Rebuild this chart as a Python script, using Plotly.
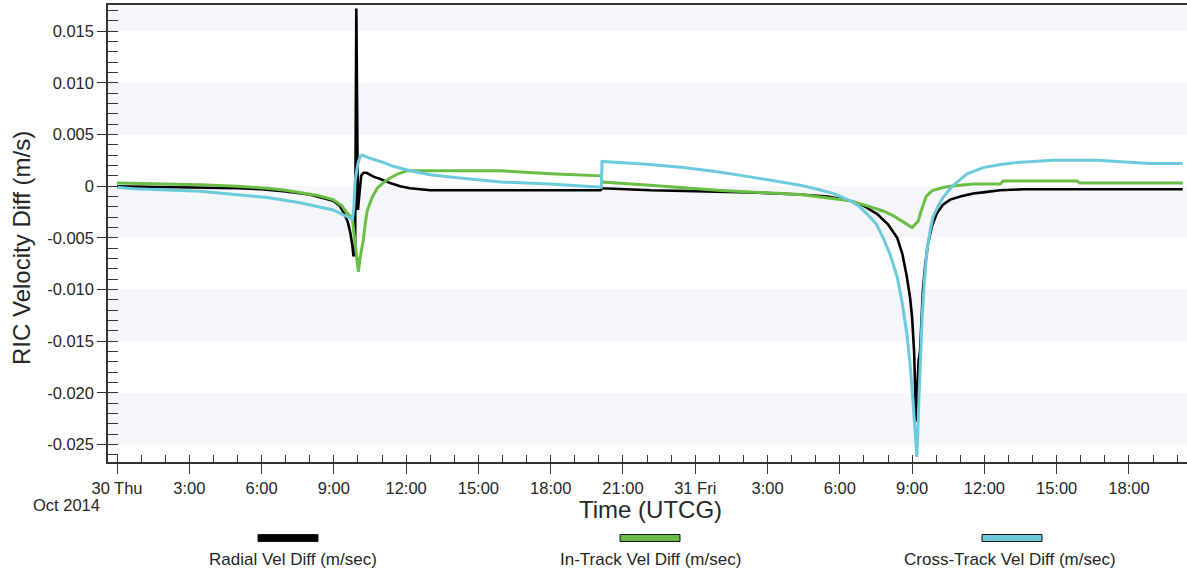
import plotly.graph_objects as go

# ---------------- data ----------------
radial_t = ["2014-10-30 00:00", "2014-10-30 03:00", "2014-10-30 05:00", "2014-10-30 06:00",
            "2014-10-30 07:00", "2014-10-30 07:59", "2014-10-30 08:30", "2014-10-30 08:58",
            "2014-10-30 09:15", "2014-10-30 09:25", "2014-10-30 09:35", "2014-10-30 09:41",
            "2014-10-30 09:46", "2014-10-30 09:49", "2014-10-30 09:53", "2014-10-30 09:56",
            "2014-10-30 10:00", "2014-10-30 10:03", "2014-10-30 10:08", "2014-10-30 10:14",
            "2014-10-30 10:21", "2014-10-30 10:40", "2014-10-30 10:56", "2014-10-30 11:20",
            "2014-10-30 11:45", "2014-10-30 12:10", "2014-10-30 13:00", "2014-10-30 17:59",
            "2014-10-30 20:04", "2014-10-30 20:08", "2014-10-30 22:08", "2014-10-31 02:17",
            "2014-10-31 04:21", "2014-10-31 05:30", "2014-10-31 06:26", "2014-10-31 07:00",
            "2014-10-31 07:33", "2014-10-31 08:00", "2014-10-31 08:23", "2014-10-31 08:36",
            "2014-10-31 08:47", "2014-10-31 08:55", "2014-10-31 09:00", "2014-10-31 09:05",
            "2014-10-31 09:07", "2014-10-31 09:10", "2014-10-31 09:13", "2014-10-31 09:16",
            "2014-10-31 09:20", "2014-10-31 09:23", "2014-10-31 09:27", "2014-10-31 09:33",
            "2014-10-31 09:40", "2014-10-31 09:50", "2014-10-31 10:02", "2014-10-31 10:17",
            "2014-10-31 10:35", "2014-10-31 11:00", "2014-10-31 11:32", "2014-10-31 11:57",
            "2014-10-31 12:39", "2014-10-31 13:37", "2014-10-31 20:14"]
radial_v = [0.0000, -0.0001, -0.0002, -0.0003,
            -0.0005, -0.0008, -0.0011, -0.0014,
            -0.0019, -0.0026, -0.0035, -0.0045,
            -0.0057, -0.0068, -0.0060, 0.0172,
            -0.0023, -0.0008, 0.0010, 0.0013,
            0.0013, 0.0009, 0.0007, 0.0003,
            0.0000, -0.0002, -0.0004, -0.0004,
            -0.0004, -0.0002, -0.0004, -0.0006,
            -0.0008, -0.0010, -0.0014, -0.0019,
            -0.0027, -0.0037, -0.0050, -0.0066,
            -0.0088, -0.0108, -0.0127, -0.0160,
            -0.0185, -0.0228, -0.0195, -0.0170,
            -0.0159, -0.0128, -0.0100, -0.0075,
            -0.0055, -0.0038, -0.0026, -0.0018,
            -0.0013, -0.0010, -0.0007, -0.0006,
            -0.0004, -0.0003, -0.0003]

intrack_t = ["2014-10-30 00:00", "2014-10-30 03:27", "2014-10-30 05:00", "2014-10-30 06:14",
             "2014-10-30 07:00", "2014-10-30 07:36", "2014-10-30 08:20", "2014-10-30 08:58",
             "2014-10-30 09:20", "2014-10-30 09:33", "2014-10-30 09:46", "2014-10-30 09:53",
             "2014-10-30 09:58", "2014-10-30 10:01", "2014-10-30 10:06", "2014-10-30 10:13",
             "2014-10-30 10:18", "2014-10-30 10:23", "2014-10-30 10:35", "2014-10-30 10:48",
             "2014-10-30 11:05", "2014-10-30 11:20", "2014-10-30 11:40", "2014-10-30 12:03",
             "2014-10-30 15:55", "2014-10-30 17:59", "2014-10-30 20:06", "2014-10-30 20:08",
             "2014-10-30 22:08", "2014-10-31 00:55", "2014-10-31 04:21", "2014-10-31 06:26",
             "2014-10-31 07:08", "2014-10-31 07:48", "2014-10-31 08:15", "2014-10-31 08:38",
             "2014-10-31 08:50", "2014-10-31 09:00", "2014-10-31 09:05", "2014-10-31 09:10",
             "2014-10-31 09:15", "2014-10-31 09:21", "2014-10-31 09:27", "2014-10-31 09:35",
             "2014-10-31 09:45", "2014-10-31 09:52", "2014-10-31 10:20", "2014-10-31 10:35",
             "2014-10-31 11:32", "2014-10-31 12:39", "2014-10-31 12:47", "2014-10-31 15:51",
             "2014-10-31 15:58", "2014-10-31 20:14"]
intrack_v = [0.0003, 0.00015, 0.0000, -0.0002,
             -0.0004, -0.0006, -0.0009, -0.0013,
             -0.0019, -0.0026, -0.0031, -0.0055,
             -0.0075, -0.0083, -0.0068, -0.0053,
             -0.0037, -0.0024, -0.0011, -0.0002,
             0.0004, 0.0008, 0.0012, 0.0015,
             0.0015, 0.0012, 0.0010, 0.0004,
             0.0001, -0.0004, -0.0008, -0.0014,
             -0.0019, -0.0024, -0.0029, -0.0035,
             -0.0038, -0.0040, -0.0038, -0.0036,
             -0.0034, -0.0026, -0.0019, -0.0010,
             -0.0006, -0.0004, -0.0001, 0.0000,
             0.0002, 0.0002, 0.0005, 0.0005,
             0.0003, 0.0003]

cross_t = ["2014-10-30 00:00", "2014-10-30 00:41", "2014-10-30 03:27", "2014-10-30 06:14",
           "2014-10-30 07:36", "2014-10-30 08:58", "2014-10-30 09:41", "2014-10-30 09:46",
           "2014-10-30 09:50", "2014-10-30 09:53", "2014-10-30 10:00", "2014-10-30 10:06",
           "2014-10-30 10:11", "2014-10-30 10:30", "2014-10-30 11:03", "2014-10-30 11:30",
           "2014-10-30 12:10", "2014-10-30 13:00", "2014-10-30 13:50", "2014-10-30 15:00",
           "2014-10-30 15:55", "2014-10-30 17:59", "2014-10-30 20:06", "2014-10-30 20:08",
           "2014-10-30 20:46", "2014-10-30 22:08", "2014-10-30 23:30", "2014-10-31 00:55",
           "2014-10-31 02:17", "2014-10-31 03:39", "2014-10-31 04:21", "2014-10-31 05:04",
           "2014-10-31 05:43", "2014-10-31 06:26", "2014-10-31 06:50", "2014-10-31 07:08",
           "2014-10-31 07:30", "2014-10-31 07:48", "2014-10-31 08:05", "2014-10-31 08:23",
           "2014-10-31 08:35", "2014-10-31 08:47", "2014-10-31 08:55", "2014-10-31 09:02",
           "2014-10-31 09:08", "2014-10-31 09:12", "2014-10-31 09:17", "2014-10-31 09:21",
           "2014-10-31 09:25", "2014-10-31 09:31", "2014-10-31 09:37", "2014-10-31 09:45",
           "2014-10-31 09:52", "2014-10-31 10:05", "2014-10-31 10:17", "2014-10-31 10:40",
           "2014-10-31 11:00", "2014-10-31 11:17", "2014-10-31 11:57", "2014-10-31 12:40",
           "2014-10-31 13:21", "2014-10-31 14:51", "2014-10-31 16:41", "2014-10-31 18:52",
           "2014-10-31 20:14"]
cross_v = [-0.0001, -0.00025, -0.0005, -0.0011,
           -0.0016, -0.0023, -0.0031, -0.0033,
           -0.0020, 0.0005, 0.0022, 0.0029,
           0.0030, 0.0027, 0.0023, 0.0019,
           0.0015, 0.0011, 0.0009, 0.0006,
           0.0004, 0.0002, -0.0001, 0.0024,
           0.0023, 0.0021, 0.0018, 0.0014,
           0.0009, 0.0004, 0.0001, -0.0003,
           -0.0007, -0.0014, -0.0020, -0.0027,
           -0.0036, -0.0050, -0.0066, -0.0088,
           -0.0112, -0.0143, -0.0172, -0.0207,
           -0.0240, -0.0262, -0.0207, -0.0165,
           -0.0127, -0.0090, -0.0062, -0.0043,
           -0.0030, -0.0019, -0.0011, 0.0000,
           0.0007, 0.0012, 0.0018, 0.0021,
           0.0023, 0.0025, 0.0025, 0.0022,
           0.0022]

series_names = ["Radial Vel Diff (m/sec)", "In-Track Vel Diff (m/sec)", "Cross-Track Vel Diff (m/sec)"]
series_colors = ["#000000", "#6abd45", "#6ccadd"]

x_tickvals = ["2014-10-30 00:00", "2014-10-30 03:00", "2014-10-30 06:00", "2014-10-30 09:00",
              "2014-10-30 12:00", "2014-10-30 15:00", "2014-10-30 18:00", "2014-10-30 21:00",
              "2014-10-31 00:00", "2014-10-31 03:00", "2014-10-31 06:00", "2014-10-31 09:00",
              "2014-10-31 12:00", "2014-10-31 15:00", "2014-10-31 18:00"]
x_ticktext = ["30 Thu", "3:00", "6:00", "9:00", "12:00", "15:00", "18:00", "21:00",
              "31 Fri", "3:00", "6:00", "9:00", "12:00", "15:00", "18:00"]
y_tickvals = [0.015, 0.010, 0.005, 0.0, -0.005, -0.010, -0.015, -0.020, -0.025]
y_ticktext = ["0.015", "0.010", "0.005", "0", "-0.005", "-0.010", "-0.015", "-0.020", "-0.025"]

x_range = ["2014-10-29 23:37:36", "2014-10-31 20:24:36"]
y_range = [-0.0267, 0.01754]

# ---------------- layout helpers ----------------
W, H = 1187, 573
ML, MR, MT, MB = 108, 0, 5, 111
PW, PH = W - ML - MR, H - MT - MB


def fx(px):
    return (px - ML) / PW


def fy(py):
    return (H - MB - py) / PH


FONT = "Liberation Sans, Arial, sans-serif"
TXT = "#262626"
AX = "#333333"

fig = go.Figure()
for t, v, name, col in zip([radial_t, intrack_t, cross_t], [radial_v, intrack_v, cross_v],
                           series_names, series_colors):
    fig.add_trace(go.Scatter(x=t, y=v, mode="lines", name=name,
                             line=dict(color=col, width=3 if col != "#000000" else 2.6),
                             showlegend=False, hoverinfo="x+y+name"))
# helper (empty) trace carrying the inner major ticks axes
fig.add_trace(go.Scatter(x=[], y=[], xaxis="x2", yaxis="y2", showlegend=False, hoverinfo="skip"))

shapes = []
bands = [(0.015, y_range[1]), (0.005, 0.010), (-0.005, 0.0), (-0.015, -0.010), (-0.025, -0.020)]
for y0, y1 in bands:
    shapes.append(dict(type="rect", xref="paper", x0=0, x1=1, yref="y", y0=y0, y1=y1,
                       fillcolor="#f4f6f9", line=dict(width=0), layer="below"))

# legend samples
legend_boxes = [(258, 318), (620, 680), (982, 1042)]
for (x0, x1), col in zip(legend_boxes, series_colors):
    shapes.append(dict(type="rect", xref="paper", yref="paper",
                       x0=fx(x0), x1=fx(x1), y0=fy(541.5), y1=fy(534.5),
                       fillcolor=col, line=dict(color="#111111", width=1)))

annotations = []
legend_cx = [293, 650, 1010]
for cx, name in zip(legend_cx, series_names):
    annotations.append(dict(text=name, x=fx(cx), y=fy(559), xref="paper", yref="paper",
                            xanchor="center", yanchor="middle", showarrow=False,
                            font=dict(family=FONT, size=17, color=TXT)))
annotations.append(dict(text="Oct 2014", x=fx(66), y=fy(505), xref="paper", yref="paper",
                        xanchor="center", yanchor="middle", showarrow=False,
                        font=dict(family=FONT, size=16.5, color=TXT)))
annotations.append(dict(text="Time (UTCG)", x=fx(650), y=fy(509), xref="paper", yref="paper",
                        xanchor="center", yanchor="middle", showarrow=False,
                        font=dict(family=FONT, size=24, color=TXT)))
annotations.append(dict(text="RIC Velocity Diff (m/s)", x=fx(22), y=fy(248), xref="paper",
                        yref="paper", xanchor="center", yanchor="middle", showarrow=False,
                        textangle=-90, font=dict(family=FONT, size=24, color=TXT)))

fig.update_layout(
    width=W, height=H, autosize=False,
    margin=dict(l=ML, r=MR, t=MT, b=MB, pad=0),
    paper_bgcolor="white", plot_bgcolor="white",
    shapes=shapes, annotations=annotations,
    font=dict(family=FONT, size=16.5, color=TXT),
    xaxis=dict(type="date", range=x_range, tickmode="array", tickvals=x_tickvals,
               ticktext=x_ticktext, ticks="outside", ticklen=10, tickwidth=1.3, tickcolor=AX,
               showline=True, linecolor=AX, linewidth=1.5, mirror=True,
               showgrid=False, zeroline=False,
               tickfont=dict(family=FONT, size=16.5, color=TXT),
               minor=dict(ticks="inside", ticklen=7, tickwidth=1.3, tickcolor=AX,
                          dtick=3600000, tick0="2014-10-30 00:00", showgrid=False)),
    yaxis=dict(range=y_range, tickmode="array", tickvals=y_tickvals, ticktext=y_ticktext,
               ticks="outside", ticklen=9, tickwidth=1.3, tickcolor=AX,
               showline=True, linecolor=AX, linewidth=1.5, mirror=False,
               showgrid=False, zeroline=False,
               tickfont=dict(family=FONT, size=16.5, color=TXT),
               minor=dict(ticks="inside", ticklen=10, tickwidth=1.3, tickcolor=AX,
                          dtick=0.001, tick0=0, showgrid=False)),
    xaxis2=dict(type="date", range=x_range, overlaying="x", anchor="y", side="bottom",
                tickmode="array", tickvals=x_tickvals, ticks="inside", ticklen=7,
                tickwidth=1.3, tickcolor=AX, showticklabels=False, showline=False,
                showgrid=False, zeroline=False),
    yaxis2=dict(range=y_range, overlaying="y", anchor="x", side="left",
                tickmode="array", tickvals=y_tickvals, ticks="inside", ticklen=10,
                tickwidth=1.3, tickcolor=AX, showticklabels=False, showline=False,
                showgrid=False, zeroline=False),
)

fig.write_html("out.html")
